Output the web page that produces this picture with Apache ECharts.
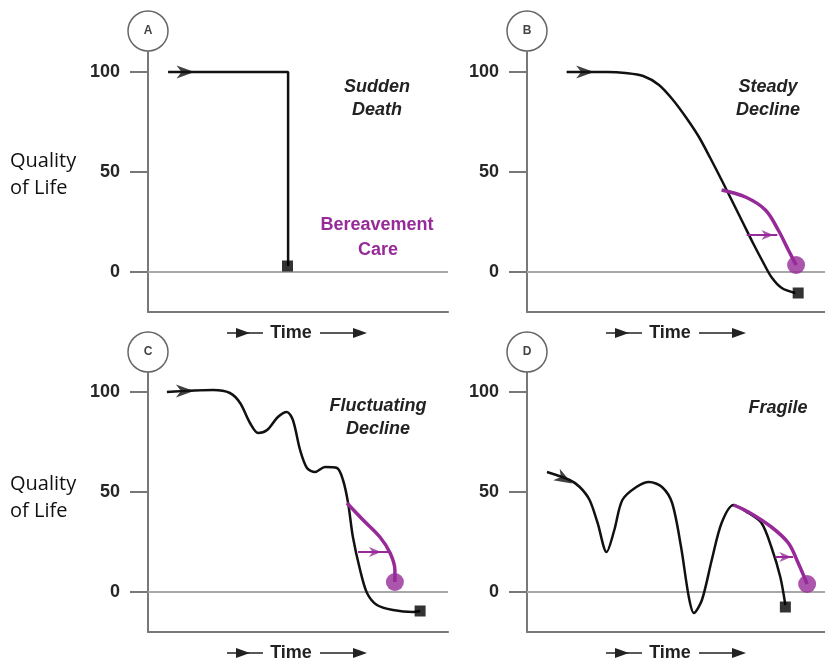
<!DOCTYPE html>
<html><head><meta charset="utf-8">
<script src="https://cdn.jsdelivr.net/npm/echarts@6/dist/echarts.min.js"></script>
<style>html,body{margin:0;padding:0;background:#fff}#c{width:825px;height:661px}</style>
</head><body><div id="c"></div>
<script>
// ---- data ----
const yTicks = [0, 50, 100];
const panelLetters = ['A', 'B', 'C', 'D'];
const panelTitles = [['Sudden', 'Death'], ['Steady', 'Decline'], ['Fluctuating', 'Decline'], ['Fragile']];
const careLabel = ['Bereavement', 'Care'];
const axisLabelText = ['Quality', 'of Life'];
const timeLabel = 'Time';

const trajA = [[6.7, 100], [46.7, 100], [46.7, 3]];
const trajB = [[13.3, 100], [20, 100], [27, 100], [33, 99.5], [39, 98], [44.3, 93.5], [49, 86], [53.5, 77], [57.7, 67.5], [61.5, 57], [65.3, 46], [69, 35], [72.5, 24.5], [76, 14], [79, 5.5], [82, -2.5], [85.5, -8], [90, -10.5]];
const trajC = [[6.3, 100], [21.7, 101], [27.3, 99.5], [30.7, 94.5], [34, 84.5], [36.7, 79.5], [39.7, 81], [43.3, 87.5], [46.3, 90], [48.3, 86], [50.7, 71], [53, 62], [55.7, 60], [59, 62.5], [63, 62], [65, 56], [66.7, 44.5], [68.3, 27.5], [70.7, 11], [73, -0.5], [76.3, -6.5], [81.7, -9], [88.3, -10], [90.7, -9.5]];
const trajD = [[6.7, 60], [14.3, 56], [17.7, 52.5], [21, 46], [23.7, 34.5], [26.7, 20], [29.3, 31], [32, 46], [36.7, 52.5], [41, 55], [45.3, 52.5], [48.7, 44.5], [51.7, 22.5], [54.3, -2.5], [56, -10.5], [58.7, -4], [62, 16], [65.3, 34.5], [69.3, 43.5], [74.3, 39.5], [78.7, 34.5], [82, 22.5], [85, 7.5], [86.7, -6.5]];

const careB = [[65.3, 41], [73.3, 37.5], [80, 31], [84.3, 21], [87.7, 11], [90.3, 3.5]];
const careC = [[66.3, 44.5], [71.7, 36], [77.3, 27.5], [80.7, 19.5], [82.3, 11], [82.3, 5]];
const careD = [[69.3, 43.5], [74.3, 40], [82, 32.5], [87.7, 24.5], [91, 14.5], [94, 4]];

const deathPts = [[46.5, 3], [91, -10.5], [90.7, -9.5], [86.7, -7.5]];
const carePts = [null, [90.3, 3.5], [82.3, 5], [94, 4]];
const startArrows = [[12.5, 100, 0], [19.5, 100, 0], [12.3, 100.5, 0], [12.5, 56.5, -30]];
const careArrowLines = [null, [[73.7, 18.5], [84, 18.5]], [[70, 20], [80, 20]], [[83.3, 17.5], [89.3, 17.5]]];
const careArrowHeads = [null, [80.7, 18.5], [75.7, 20], [86.7, 17.5]];

const trajs = [trajA, trajB, trajC, trajD];
const cares = [null, careB, careC, careD];

// ---- layout ----
const grids = [
  { left: 148, top: 52, width: 300, height: 260 },
  { left: 527, top: 52, width: 300, height: 260 },
  { left: 148, top: 372, width: 300, height: 260 },
  { left: 527, top: 372, width: 300, height: 260 }
];
const PURPLE = '#962a98';
const AX = '#787878';
const ARROW = 'path://M0,0 L16,6 L0,12 L4.5,6 Z';
const FONT = '"Liberation Sans", Arial, sans-serif';

const xAxes = [], yAxes = [], series = [], graphic = [];
grids.forEach((g, i) => {
  xAxes.push({
    gridIndex: i, type: 'value', min: 0, max: 100,
    axisLine: { show: true, onZero: false, lineStyle: { color: AX, width: 2 } },
    axisTick: { show: false }, axisLabel: { show: false }, splitLine: { show: false }
  });
  yAxes.push({
    gridIndex: i, type: 'value', min: -20, max: 110,
    axisLine: { show: true, onZero: false, lineStyle: { color: AX, width: 2 } },
    axisTick: { show: true, customValues: yTicks, length: 18, lineStyle: { color: AX, width: 2 } },
    axisLabel: { customValues: yTicks, margin: 28, fontSize: 18, fontWeight: 'bold', color: '#262626', fontFamily: FONT },
    splitLine: { show: false }
  });
  series.push({
    type: 'line', xAxisIndex: i, yAxisIndex: i, data: trajs[i],
    smooth: i === 0 ? false : 0.3, showSymbol: false, silent: true, z: 3,
    lineStyle: { color: '#111', width: 2.5 },
    markLine: {
      silent: true, symbol: 'none', label: { show: false },
      lineStyle: { color: '#a8a8a8', width: 2, type: 'solid' },
      data: [{ yAxis: 0 }], z: 1
    }
  });
  if (cares[i]) {
    series.push({
      type: 'line', xAxisIndex: i, yAxisIndex: i, data: cares[i],
      smooth: 0.35, showSymbol: false, silent: true, z: 4,
      lineStyle: { color: PURPLE, width: 3.5 }
    });
    series.push({
      type: 'line', xAxisIndex: i, yAxisIndex: i, data: careArrowLines[i],
      showSymbol: false, silent: true, z: 4,
      lineStyle: { color: PURPLE, width: 2 }
    });
    series.push({
      type: 'scatter', xAxisIndex: i, yAxisIndex: i, silent: true, z: 5,
      data: [carePts[i]], symbol: 'circle', symbolSize: 18,
      itemStyle: { color: PURPLE }
    });
    series.push({
      type: 'scatter', xAxisIndex: i, yAxisIndex: i, silent: true, z: 5,
      data: [careArrowHeads[i]], symbol: ARROW, symbolSize: [12, 10],
      itemStyle: { color: PURPLE }
    });
  }
  series.push({
    type: 'scatter', xAxisIndex: i, yAxisIndex: i, silent: true, z: 6,
    data: [deathPts[i]], symbol: 'rect', symbolSize: 11,
    itemStyle: { color: '#000' }
  });
  const sa = startArrows[i];
  series.push({
    type: 'scatter', xAxisIndex: i, yAxisIndex: i, silent: true, z: 6,
    data: [{ value: [sa[0], sa[1]], symbolRotate: sa[2] }], symbol: ARROW, symbolSize: [18, 13],
    itemStyle: { color: '#111' }
  });

  // circled letter
  const cx = g.left, cy = i < 2 ? 31 : 352;
  graphic.push({ type: 'circle', shape: { cx: cx, cy: cy, r: 20 }, style: { fill: '#fff', stroke: '#666', lineWidth: 1.5 }, z: 10 });
  graphic.push({ type: 'text', x: cx, y: cy, style: { text: panelLetters[i], fill: '#444', font: 'bold 12px ' + FONT, align: 'center', verticalAlign: 'middle' }, z: 11 });

  // time label
  const ox = g.left - 148, ty = i < 2 ? 333 : 653;
  const st = { stroke: '#222', lineWidth: 1.6 };
  graphic.push({ type: 'line', shape: { x1: 227 + ox, y1: ty, x2: 263 + ox, y2: ty }, style: st });
  graphic.push({ type: 'polygon', shape: { points: [[236 + ox, ty - 5], [250 + ox, ty], [236 + ox, ty + 5]] }, style: { fill: '#222' } });
  graphic.push({ type: 'text', x: 291 + ox, y: ty, style: { text: timeLabel, fill: '#222', font: 'bold 18px ' + FONT, align: 'center', verticalAlign: 'middle' } });
  graphic.push({ type: 'line', shape: { x1: 320 + ox, y1: ty, x2: 362 + ox, y2: ty }, style: st });
  graphic.push({ type: 'polygon', shape: { points: [[353 + ox, ty - 5], [367 + ox, ty], [353 + ox, ty + 5]] }, style: { fill: '#222' } });
});

// titles
const titlePos = [[377, 87], [768, 87], [378, 406], [778, 408]];
panelTitles.forEach((t, i) => {
  t.forEach((line, j) => {
    graphic.push({ type: 'text', x: titlePos[i][0], y: titlePos[i][1] + j * 23, style: { text: line, fill: '#222', font: 'italic bold 18px ' + FONT, align: 'center', verticalAlign: 'middle' } });
  });
});
graphic.push({ type: 'text', x: 377, y: 225, style: { text: careLabel[0], fill: PURPLE, font: 'bold 18px ' + FONT, align: 'center', verticalAlign: 'middle' } });
graphic.push({ type: 'text', x: 378, y: 250, style: { text: careLabel[1], fill: PURPLE, font: 'bold 18px ' + FONT, align: 'center', verticalAlign: 'middle' } });

// y-axis titles
[[161, 188], [484, 511]].forEach(ys => {
  axisLabelText.forEach((line, j) => {
    graphic.push({ type: 'text', x: 10, y: ys[j], style: { text: line, fill: '#111', font: '20px "Open Sans", "Noto Sans", sans-serif', align: 'left', verticalAlign: 'middle' } });
  });
});

const chart = echarts.init(document.getElementById('c'), null, { renderer: 'canvas' });
chart.setOption({
  animation: false,
  grid: grids,
  xAxis: xAxes,
  yAxis: yAxes,
  series: series,
  graphic: graphic
});
</script></body></html>
